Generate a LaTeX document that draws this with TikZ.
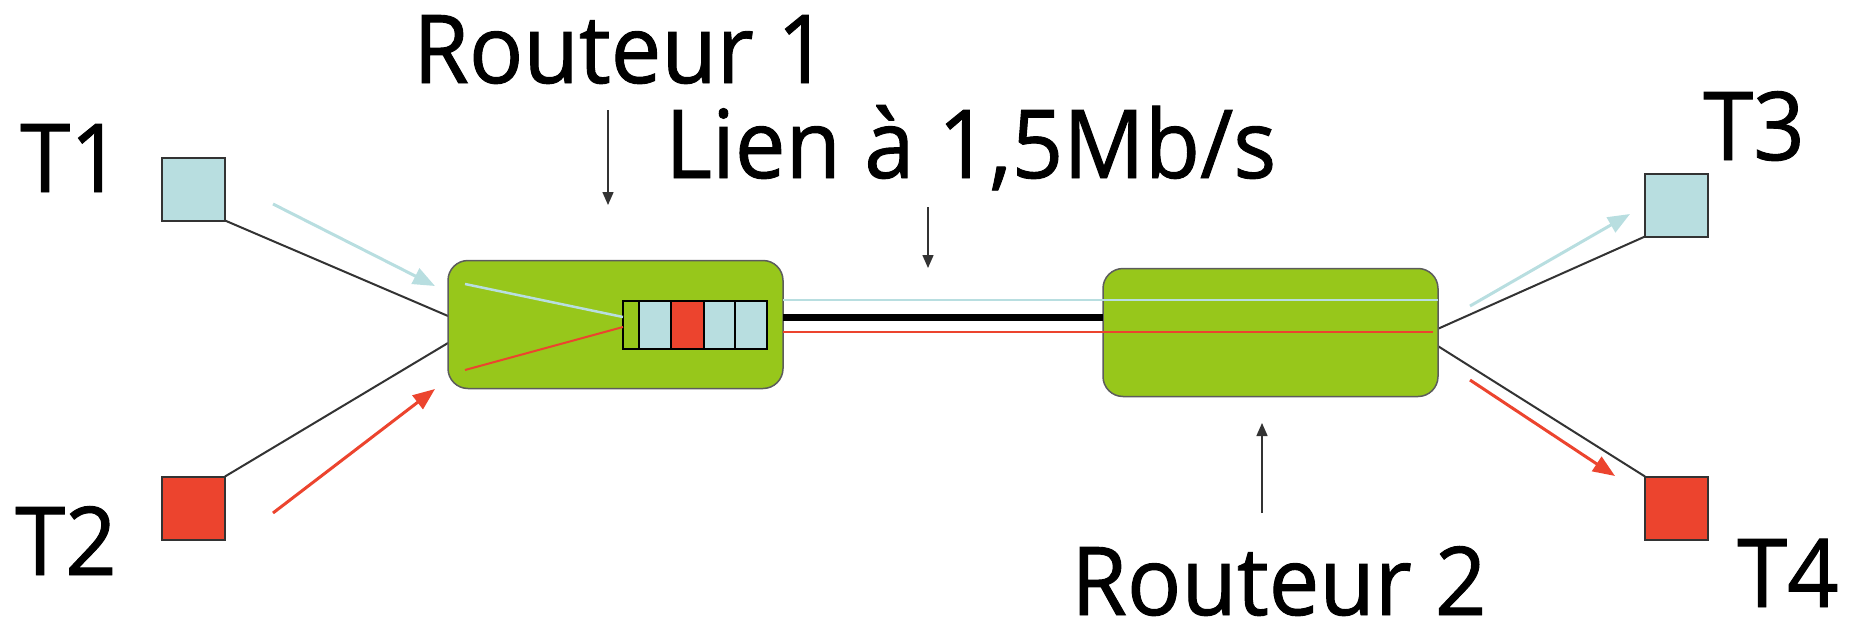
\documentclass[tikz,border=0pt]{standalone}
\usepackage{fontspec}
\setmainfont[FakeStretch=0.95,FakeBold=1]{Open Sans}
\usetikzlibrary{arrows.meta}
\definecolor{lblue}{HTML}{B8DEE0}
\definecolor{tred}{HTML}{EC442E}
\definecolor{rgreen}{HTML}{97C71B}
\definecolor{edge}{HTML}{333333}
\begin{document}
\begin{tikzpicture}[x=1pt,y=-1pt,
  term/.style={draw=edge,line width=2pt,minimum size=63pt,inner sep=0pt,outer sep=0pt},
  router/.style={draw=edge!80,line width=1.5pt,fill=rgreen,rounded corners=20pt,minimum width=335pt,minimum height=128pt,inner sep=0pt,outer sep=0pt},
  cell/.style={draw=black,line width=1.5pt,minimum height=48pt,inner sep=0pt,outer sep=0pt},
  lbl/.style={font=\fontsize{95}{110}\selectfont,inner sep=0pt,anchor=base west},
  wire/.style={draw=edge,line width=2pt},
  flowb/.style={draw=lblue,line width=3pt,-{Triangle[length=22pt,width=17pt]}},
  flowr/.style={draw=tred,line width=3pt,-{Triangle[length=22pt,width=17pt]}},
  pointer/.style={draw=black!80,line width=1.5pt,-{Triangle[length=13pt,width=11pt]}}
]
\useasboundingbox (0,0) rectangle (1858,629);

% terminals
\node[term,fill=lblue] (t1) at (193.5,189) {};
\node[term,fill=tred]  (t2) at (193.5,508) {};
\node[term,fill=lblue] (t3) at (1676.5,205) {};
\node[term,fill=tred]  (t4) at (1676.5,508) {};

% router attachment points
\coordinate (r1a) at (448,316);
\coordinate (r1b) at (448,343);
\coordinate (r2a) at (1433,331);
\coordinate (r2b) at (1433,343);

% wires
\draw[wire] (t1.south east) -- (r1a);
\draw[wire] (t2.north east) -- (r1b);
\draw[wire] (t3.south west) -- (r2a);
\draw[wire] (t4.north west) -- (r2b);

% routers
\node[router] (r1) at (615.5,324.5) {};
\node[router] (r2) at (1270.5,332.5) {};

% link
\draw[line width=7pt,black] (r1.east |- 0,317) -- (r2.west |- 0,317);
\draw[lblue,line width=2.5pt] (r1.east |- 0,300) -- (r2.east |- 0,300);
\draw[tred,line width=2pt] (r1.east |- 0,332) -- (1433,332);

% queue
\node[cell,fill=rgreen,minimum width=16pt] (q0) at (631,325) {};
\node[cell,fill=lblue,minimum width=32pt] (q1) at (655,325) {};
\node[cell,fill=tred,minimum width=33pt] (q2) at (687.5,325) {};
\node[cell,fill=lblue,minimum width=31pt] (q3) at (719.5,325) {};
\node[cell,fill=lblue,minimum width=32pt] (q4) at (751,325) {};

% flows inside router 1
\coordinate (inb) at (465,284);
\coordinate (inr) at (465,370);
\draw[lblue,line width=2.5pt] (inb) -- (q0.west |- 0,317);
\draw[tred,line width=2pt] (inr) -- (q0.west |- 0,327);

% flow arrows
\coordinate (fb1s) at (273,204); \coordinate (fb1e) at (435,286);
\coordinate (fr1s) at (273,513); \coordinate (fr1e) at (435,389);
\coordinate (fb2s) at (1470,306); \coordinate (fb2e) at (1630,214);
\coordinate (fr2s) at (1470,380); \coordinate (fr2e) at (1615,476);
\draw[flowb] (fb1s) -- (fb1e);
\draw[flowr] (fr1s) -- (fr1e);
\draw[flowb] (fb2s) -- (fb2e);
\draw[flowr] (fr2s) -- (fr2e);

% labels
\node[lbl] (lr1) at (413,83) {Routeur 1};
\node[lbl] (llien) at (665,178) {Lien à 1,5Mb/s};
\node[lbl] (lt1) at (20,192) {T1};
\node[lbl] (lt2) at (15,575) {T2};
\node[lbl] (lt3) at (1703,160) {T3};
\node[lbl] (lt4) at (1737,607) {T4};
\node[lbl] (lr2) at (1071,615) {Routeur 2};

% pointers
\coordinate (p1s) at (608,110); \coordinate (p1e) at (608,205);
\coordinate (p2s) at (928,207); \coordinate (p2e) at (928,268);
\coordinate (p3s) at (1262,513); \coordinate (p3e) at (1262,423);
\draw[pointer] (p1s) -- (p1e);
\draw[pointer] (p2s) -- (p2e);
\draw[pointer] (p3s) -- (p3e);
\end{tikzpicture}
\end{document}
